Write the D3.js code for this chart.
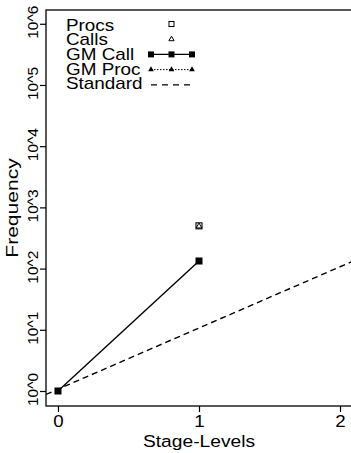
<!DOCTYPE html>
<html>
<head>
<meta charset="utf-8">
<script src="https://cdn.jsdelivr.net/npm/d3@7"></script>
<style>
  body { margin: 0; background: #fff; }
  svg { display: block; font-family: "Liberation Sans", Arial, sans-serif; }
</style>
</head>
<body>
<svg id="chart" width="351" height="453"></svg>
<script>
// data
const xTicks = [0, 1, 2];
const yTicks = [1, 10, 100, 1000, 10000, 100000, 1000000];
const yTickLabels = ["10^0", "10^1", "10^2", "10^3", "10^4", "10^5", "10^6"];

const procs = [{ x: 1, y: 500 }];
const calls = [{ x: 1, y: 500 }];
const gmCall = [{ x: 0, y: 1 }, { x: 1, y: 133 }];
// standard reference: y = standardStart * standardBase^x
const standardStart = 1.07;
const standardBase = 10;

const legendItems = ["Procs", "Calls", "GM Call", "GM Proc", "Standard"];

const svg = d3.select("#chart");
const plotLeft = 46, plotRight = 352, plotTop = 10, plotBottom = 406;

const x = d3.scaleLinear().domain([-0.085, 2.085]).range([plotLeft, plotRight]);
const y = d3.scaleLog().domain([Math.pow(10, -0.245), Math.pow(10, 6.225)]).range([plotBottom, plotTop]);

svg.append("defs").append("clipPath").attr("id", "clip")
  .append("rect").attr("x", plotLeft).attr("y", plotTop)
  .attr("width", plotRight - plotLeft).attr("height", plotBottom - plotTop);

// frame
svg.append("rect")
  .attr("x", plotLeft).attr("y", plotTop)
  .attr("width", plotRight - plotLeft).attr("height", plotBottom - plotTop)
  .attr("fill", "none").attr("stroke", "#000").attr("stroke-width", 1.3);

// y axis
const yAxis = svg.append("g").attr("transform", `translate(${plotLeft},0)`)
  .call(d3.axisLeft(y).tickValues(yTicks).tickSize(6).tickFormat((d, i) => yTickLabels[i]));
yAxis.select(".domain").remove();
yAxis.selectAll("line").attr("stroke-width", 1.2);
yAxis.selectAll(".tick text")
  .attr("font-size", 15.5)
  .attr("fill", "#000")
  .attr("text-anchor", "middle")
  .attr("x", 0).attr("y", 0).attr("dy", 0)
  .attr("transform", "translate(-8.5,-2) rotate(-90)");

// x axis
const xAxis = svg.append("g").attr("transform", `translate(0,${plotBottom})`)
  .call(d3.axisBottom(x).tickValues(xTicks).tickSize(6).tickFormat(d3.format("d")));
xAxis.select(".domain").remove();
xAxis.selectAll("line").attr("stroke-width", 1.2);
xAxis.selectAll("text")
  .attr("font-size", 17).attr("fill", "#000")
  .attr("y", 0).attr("dy", 0)
  .attr("transform", "translate(0,21) scale(1.1,1)");

// axis titles
svg.append("text")
  .attr("transform", `translate(${x(1)},446.5) scale(1.13,1)`)
  .attr("text-anchor", "middle").attr("font-size", 17)
  .text("Stage-Levels");
svg.append("text")
  .attr("transform", `translate(18,${(plotTop + plotBottom) / 2}) rotate(-90) scale(1.24,1)`)
  .attr("text-anchor", "middle").attr("font-size", 17)
  .text("Frequency");

const plot = svg.append("g").attr("clip-path", "url(#clip)");

// standard dashed line across the plot
const xDom = x.domain();
plot.append("line")
  .attr("x1", x(xDom[0])).attr("y1", y(standardStart * Math.pow(standardBase, xDom[0])))
  .attr("x2", x(xDom[1])).attr("y2", y(standardStart * Math.pow(standardBase, xDom[1])))
  .attr("stroke", "#000").attr("stroke-width", 1.4)
  .attr("stroke-dasharray", "6,4");

// GM Call line
plot.append("path")
  .datum(gmCall)
  .attr("fill", "none").attr("stroke", "#000").attr("stroke-width", 1.4)
  .attr("d", d3.line().x(d => x(d.x)).y(d => y(d.y)));
plot.selectAll(".gmc").data(gmCall).join("rect")
  .attr("x", d => x(d.x) - 3.5).attr("y", d => y(d.y) - 3.5)
  .attr("width", 7).attr("height", 7).attr("fill", "#000");

// Procs squares (open)
plot.selectAll(".procs").data(procs).join("rect")
  .attr("x", d => x(d.x) - 3).attr("y", d => y(d.y) - 3)
  .attr("width", 6).attr("height", 6)
  .attr("fill", "none").attr("stroke", "#000").attr("stroke-width", 1.1);

// Calls triangles (open)
const tri = d3.symbol().type(d3.symbolTriangle).size(14);
plot.selectAll(".calls").data(calls).join("path")
  .attr("transform", d => `translate(${x(d.x)},${y(d.y) + 0.5})`)
  .attr("d", tri)
  .attr("fill", "none").attr("stroke", "#000").attr("stroke-width", 1);

// legend
const lg = svg.append("g");
const lx = 66, lBase0 = 30.5, lstep = 14.7;
const sy0 = 24, sstep = 15.2;
const s0 = 151, s1 = 192, sm = (s0 + s1) / 2;
const sy = i => sy0 + i * sstep;
legendItems.forEach((name, i) => {
  lg.append("text")
    .attr("transform", `translate(${lx},${lBase0 + i * lstep}) scale(1.18,1)`)
    .attr("font-size", 16)
    .text(name);
});
// Procs
lg.append("rect").attr("x", sm - 2.5).attr("y", sy(0) - 2.5)
  .attr("width", 5).attr("height", 5)
  .attr("fill", "none").attr("stroke", "#000").attr("stroke-width", 1);
// Calls
lg.append("path").attr("transform", `translate(${sm},${sy(1)})`)
  .attr("d", d3.symbol().type(d3.symbolTriangle).size(12))
  .attr("fill", "none").attr("stroke", "#000").attr("stroke-width", 1);
// GM Call
lg.append("line").attr("x1", s0).attr("x2", s1).attr("y1", sy(2)).attr("y2", sy(2))
  .attr("stroke", "#000").attr("stroke-width", 1.3);
[s0, sm, s1].forEach(px => lg.append("rect")
  .attr("x", px - 3).attr("y", sy(2) - 3).attr("width", 6).attr("height", 6).attr("fill", "#000"));
// GM Proc
lg.append("line").attr("x1", s0).attr("x2", s1).attr("y1", sy(3)).attr("y2", sy(3))
  .attr("stroke", "#000").attr("stroke-width", 1).attr("stroke-dasharray", "1.5,1.5");
[s0, sm, s1].forEach(px => lg.append("path")
  .attr("transform", `translate(${px},${sy(3)})`)
  .attr("d", d3.symbol().type(d3.symbolTriangle).size(14)).attr("fill", "#000"));
// Standard
lg.append("line").attr("x1", s0).attr("x2", s1).attr("y1", sy(4)).attr("y2", sy(4))
  .attr("stroke", "#000").attr("stroke-width", 1.3).attr("stroke-dasharray", "6,5");
</script>
</body>
</html>
